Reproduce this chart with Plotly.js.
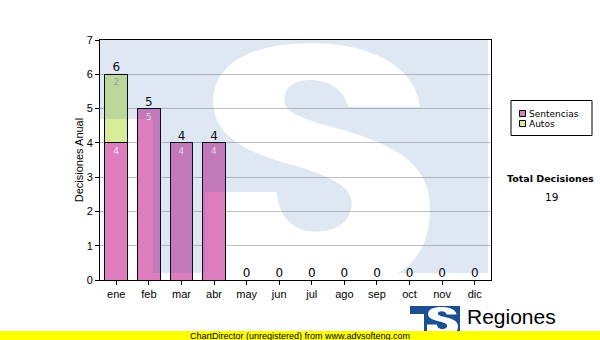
<!DOCTYPE html>
<html>
<head>
<meta charset="utf-8">
<script src="https://cdn.plot.ly/plotly-3.0.1.min.js"></script>
<style>
  html, body { margin: 0; padding: 0; background: #ffffff; }
  #chart { width: 600px; height: 340px; }
</style>
</head>
<body>
<div id="chart"></div>
<script>
// ---- data ----
const months = ['ene', 'feb', 'mar', 'abr', 'may', 'jun', 'jul', 'ago', 'sep', 'oct', 'nov', 'dic'];
const sentencias = [4, 5, 4, 4, 0, 0, 0, 0, 0, 0, 0, 0];
const autos = [2, 0, 0, 0, 0, 0, 0, 0, 0, 0, 0, 0];
const seriesNames = ['Sentencias', 'Autos'];
const yAxisTitle = 'Decisiones Anual';
const totalLabel = 'Total Decisiones';
const logoText = 'Regiones';
const logoSubText = 'Tribunal Supremo de Justicia';
const footerText = 'ChartDirector (unregistered) from www.advsofteng.com';

// ---- styles ----
const pink = '#dd7dbe';
const green = '#d6ec98';
const fontArial = 'Arial, "Liberation Sans", sans-serif';
const fontVerdana = 'Tahoma, "DejaVu Sans", sans-serif';

const totals = months.map((m, i) => sentencias[i] + autos[i]);
const grandTotal = totals.reduce((a, b) => a + b, 0);

// plot area in pixels
const L = 100, R = 491, T = 40, B = 280;
const ax = px => (px - L) / (R - L);
const ay = py => (B - py) / (B - T);

// path helper: list of [cmd, x1,y1, x2,y2, ...] in pixel coords -> paper path
function toPath(cmds, tf) {
  return cmds.map(c => {
    const cmd = c[0];
    const pts = [];
    for (let i = 1; i < c.length; i += 2) {
      const p = tf(c[i], c[i + 1]);
      pts.push(ax(p[0]).toFixed(5) + ',' + ay(p[1]).toFixed(5));
    }
    return cmd + ' ' + pts.join(' ');
  }).join(' ');
}
const ident = (x, y) => [x, y];

// S letter outline (pixel coords of the large watermark)
const sCmds = [
  ['M', 311.7, 43.3],
  ['C', 368.3, 43.3, 415, 65, 420, 106.7],
  ['L', 348.3, 106.7],
  ['C', 343.3, 88.3, 328.3, 80, 310, 80],
  ['C', 293.3, 80, 284.3, 88.3, 284.3, 100],
  ['C', 284.3, 115, 308.3, 120, 348.3, 131.7],
  ['C', 411.7, 150, 430, 175, 430, 208.3],
  ['C', 430, 240, 418, 262, 398, 273],
  ['L', 205, 273],
  ['L', 205, 192],
  ['L', 276.7, 192],
  ['C', 278.3, 218.3, 295, 231.7, 315, 231.7],
  ['C', 338.3, 231.7, 351.7, 220, 351.7, 203.3],
  ['C', 351.7, 185, 328.3, 175, 281.7, 161.7],
  ['C', 228.3, 146.7, 213.3, 125, 213.3, 101.7],
  ['C', 213.3, 65, 248.3, 43.3, 311.7, 43.3],
  ['Z']
];
const bigOutline = [
  ['M', 100, 40], ['L', 488, 40], ['L', 488, 273], ['L', 153, 273], ['L', 153, 119], ['L', 100, 119], ['Z']
];
const smallOutline = [
  ['M', 410, 306], ['L', 460, 306], ['L', 460, 336], ['L', 424, 336], ['L', 424, 314], ['L', 410, 314], ['Z']
];
const smallTf = (x, y) => [427 + (x - 205) * (31 / 225), 307 + (y - 43) * (27 / 230)];

const watermarkPath = toPath(bigOutline, ident) + ' ' + toPath(sCmds, ident);
const smallLogoPath = toPath(smallOutline, ident) + ' ' + toPath(sCmds, smallTf);

const lbl = arr => arr.map(v => (v ? String(v) : ''));

const traces = [
  {
    type: 'bar', name: seriesNames[0], x: months, y: sentencias,
    marker: { color: pink, line: { color: '#000', width: 1 } },
    text: lbl(sentencias), textposition: 'inside', insidetextanchor: 'end',
    textfont: { family: fontVerdana, size: 9, color: '#fbe6f3' },
    constraintext: 'none', cliponaxis: false, hoverinfo: 'x+y+name'
  },
  {
    type: 'bar', name: seriesNames[1], x: months, y: autos,
    marker: { color: green, line: { color: '#000', width: 1 } },
    text: lbl(autos), textposition: 'inside', insidetextanchor: 'end',
    textfont: { family: fontVerdana, size: 9, color: '#a8a8a8' },
    constraintext: 'none', cliponaxis: false, hoverinfo: 'x+y+name'
  },
  {
    type: 'scatter', mode: 'text', x: months, y: totals,
    text: totals.map(String), textposition: 'top center',
    textfont: { family: fontVerdana, size: 12, color: '#000' },
    cliponaxis: false, hoverinfo: 'skip', showlegend: false
  }
];

const shapes = [
  // watermark (T + S logo), drawn translucent over the plot
  { type: 'path', xref: 'paper', yref: 'paper', path: watermarkPath, fillrule: 'evenodd',
    fillcolor: 'rgba(40,100,165,0.15)', line: { width: 0 }, layer: 'above' },
  // custom legend
  { type: 'rect', xref: 'paper', yref: 'paper', x0: ax(511), x1: ax(592), y0: ay(100.5), y1: ay(135.5),
    fillcolor: '#fff', line: { color: '#000', width: 1 }, layer: 'above' },
  { type: 'rect', xref: 'paper', yref: 'paper', x0: ax(519.5), x1: ax(525.5), y0: ay(110.5), y1: ay(116.5),
    fillcolor: pink, line: { color: '#000', width: 1 }, layer: 'above' },
  { type: 'rect', xref: 'paper', yref: 'paper', x0: ax(519.5), x1: ax(525.5), y0: ay(120.5), y1: ay(126.5),
    fillcolor: green, line: { color: '#000', width: 1 }, layer: 'above' },
  // small logo
  { type: 'path', xref: 'paper', yref: 'paper', path: smallLogoPath, fillrule: 'evenodd',
    fillcolor: '#1c4f92', line: { width: 0 }, layer: 'above' }
];

const annotations = [
  { xref: 'paper', yref: 'paper', x: ax(527), y: ay(113.5), xanchor: 'left', yanchor: 'middle',
    text: seriesNames[0], showarrow: false, font: { family: fontVerdana, size: 9, color: '#000' } },
  { xref: 'paper', yref: 'paper', x: ax(527), y: ay(123.5), xanchor: 'left', yanchor: 'middle',
    text: seriesNames[1], showarrow: false, font: { family: fontVerdana, size: 9, color: '#000' } },
  { xref: 'paper', yref: 'paper', x: ax(550.5), y: ay(178), xanchor: 'center', yanchor: 'middle',
    text: '<b>' + totalLabel + '</b>', showarrow: false, font: { family: fontVerdana, size: 9.5, color: '#000' } },
  { xref: 'paper', yref: 'paper', x: ax(551), y: ay(196.5), xanchor: 'center', yanchor: 'middle',
    text: String(grandTotal), showarrow: false, font: { family: fontVerdana, size: 10.5, color: '#000' } },
  { xref: 'paper', yref: 'paper', x: ax(465), y: ay(316), xanchor: 'left', yanchor: 'middle',
    text: logoText, showarrow: false, font: { family: fontArial, size: 21, color: '#000' } },
  { xref: 'paper', yref: 'paper', x: ax(468), y: ay(328), xanchor: 'left', yanchor: 'top',
    text: logoSubText, showarrow: false, font: { family: fontArial, size: 9.5, color: '#000' } },
  // footer bar (drawn last so it covers the text under it)
  { xref: 'paper', yref: 'paper', x: ax(300), y: ay(335.5), xanchor: 'center', yanchor: 'middle',
    text: footerText, showarrow: false, bgcolor: '#ffff00', width: 600, height: 9, borderpad: 0, borderwidth: 0,
    font: { family: fontArial, size: 9, color: '#000' } }
];

const layout = {
  width: 600, height: 340,
  margin: { l: L, r: 600 - R, t: T, b: 340 - B, pad: 0 },
  paper_bgcolor: '#ffffff', plot_bgcolor: '#ffffff',
  barmode: 'stack', bargap: 0.3, showlegend: false,
  font: { family: fontArial, size: 11, color: '#000' },
  xaxis: {
    type: 'category', range: [-0.5, months.length - 0.5], automargin: false,
    showline: true, linecolor: '#000', linewidth: 1, mirror: true,
    ticks: 'outside', ticklen: 4, tickcolor: '#000', showgrid: false,
    tickfont: { family: fontArial, size: 11, color: '#000' }
  },
  yaxis: {
    range: [0, 7], dtick: 1, automargin: false, showline: true, linecolor: '#000', linewidth: 1, mirror: true,
    ticks: 'outside', ticklen: 4, tickcolor: '#000', showgrid: true, gridcolor: '#c0c0c0',
    zeroline: false, tickfont: { family: fontArial, size: 11, color: '#000' },
    title: { text: yAxisTitle, standoff: 0, font: { family: fontArial, size: 11, color: '#000' } }
  },
  shapes: shapes,
  annotations: annotations
};

Plotly.newPlot('chart', traces, layout, { staticPlot: true, displayModeBar: false });
</script>
</body>
</html>
